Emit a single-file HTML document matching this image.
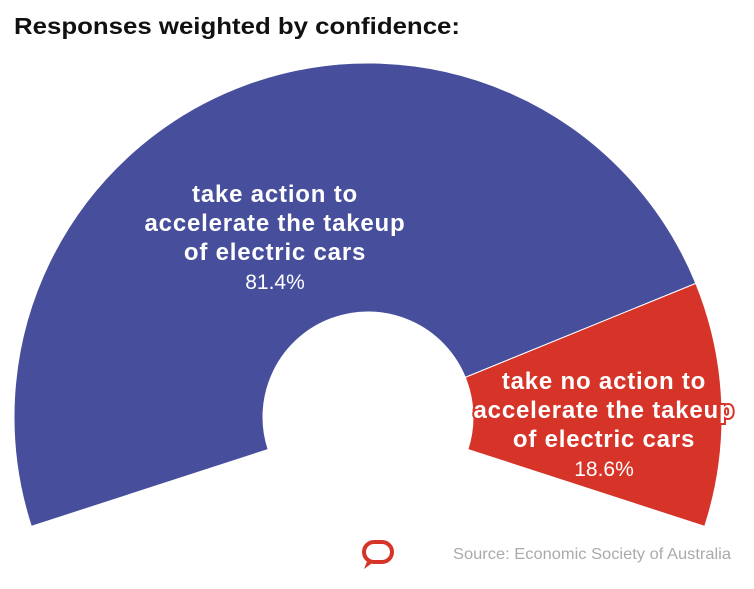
<!DOCTYPE html>
<html><head><meta charset="utf-8"><style>
body{margin:0;background:#fff;width:754px;height:584px;overflow:hidden;font-family:"Liberation Sans",sans-serif}
svg text{font-family:"Liberation Sans",sans-serif}
</style></head><body>
<svg id="chart" width="754" height="584">
<text x="14" y="34" font-size="23" font-weight="bold" fill="#111" textLength="446" lengthAdjust="spacingAndGlyphs">Responses weighted by confidence:</text>
<g id="slices"></g>
<g id="labels"></g>
<g transform="translate(378,553)">
<rect x="-14" y="-11" width="28" height="20" rx="10" fill="none" stroke="#d63429" stroke-width="4"/>
<path d="M-10 6 L-14 16 L-3 8 Z" fill="#d63429"/>
</g>
<text x="453" y="559" font-size="16" fill="#aaa" textLength="278" lengthAdjust="spacingAndGlyphs">Source: Economic Society of Australia</text>
</svg>
<script>
const categories=["take action to accelerate the takeup of electric cars","take no action to accelerate the takeup of electric cars"];
const values=[81.4,18.6];
const valueLabels=["81.4%","18.6%"];
const colors=["#474f9c","#d63429"];
const cx=368,cy=417,R=354,r=105,startDeg=198,sweep=216;
const total=values.reduce((a,b)=>a+b,0);
function pt(rad,deg){const a=deg*Math.PI/180;return [cx+rad*Math.cos(a),cy-rad*Math.sin(a)];}
const ns="http://www.w3.org/2000/svg";
let a0=startDeg;
const g=document.getElementById('slices');
values.forEach((v,i)=>{
 const a1=a0-v/total*sweep;
 const large=(a0-a1)>180?1:0;
 const p1=pt(R,a0),p2=pt(R,a1),p3=pt(r,a1),p4=pt(r,a0);
 const p=document.createElementNS(ns,'path');
 p.setAttribute('d',`M${p1} A${R} ${R} 0 ${large} 1 ${p2} L${p3} A${r} ${r} 0 ${large} 0 ${p4} Z`);
 p.setAttribute('fill',colors[i]);
 p.setAttribute('stroke','#fff');p.setAttribute('stroke-width','1');
 
 
 g.appendChild(p);
 a0=a1;
});
const labelPos=[[275,202],[604,389]];
const lines=[["take action to","accelerate the takeup","of electric cars"],["take no action to","accelerate the takeup","of electric cars"]];
const lg=document.getElementById('labels');
lines.forEach((ls,i)=>{
 ls.forEach((t,j)=>{
  const e=document.createElementNS(ns,'text');
  e.setAttribute('x',labelPos[i][0]);e.setAttribute('y',labelPos[i][1]+j*29);
  e.setAttribute('text-anchor','middle');e.setAttribute('font-size','24');e.setAttribute('font-weight','bold');
  e.setAttribute('letter-spacing','0.8');
  e.setAttribute('fill','#fff');
  if(i==1){e.setAttribute('stroke',colors[1]);e.setAttribute('stroke-width','4');e.setAttribute('paint-order','stroke');}
  e.textContent=t;
  
  
  lg.appendChild(e);
 });
 const e=document.createElementNS(ns,'text');
 e.setAttribute('x',labelPos[i][0]);e.setAttribute('y',labelPos[i][1]+3*29);
 e.setAttribute('text-anchor','middle');e.setAttribute('font-size','21');e.setAttribute('fill','#fff');
 e.textContent=valueLabels[i];
 
 
 lg.appendChild(e);
});
</script>
</body></html>
